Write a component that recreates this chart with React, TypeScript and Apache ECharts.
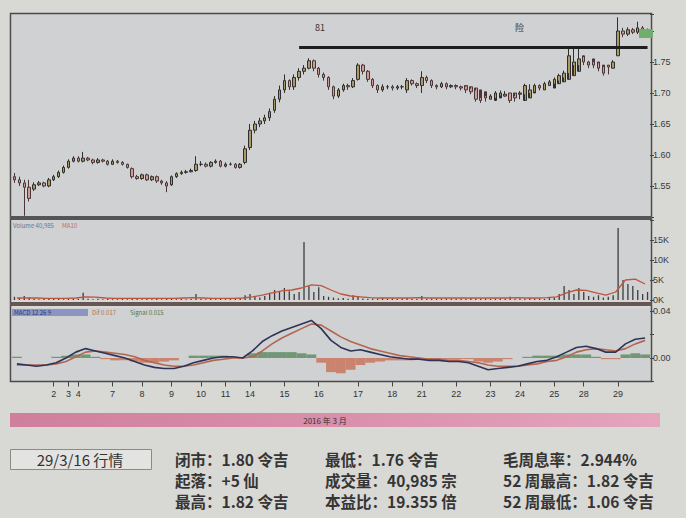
import React, { useEffect, useRef } from "react";
import * as echarts from "echarts";

// ---- categories / ticks ----
const tradingDays = [1, 2, 3, 4, 7, 8, 9, 10, 11, 14, 15, 16, 17, 18, 21, 22, 23, 24, 25, 28, 29];
const barsPerDay = [8, 3, 2, 7, 6, 6, 6, 5, 5, 7, 7, 8, 7, 6, 7, 7, 6, 7, 6, 7, 7];
const priceTicks = ["1.55", "1.60", "1.65", "1.70", "1.75"];
const volumeTicks = ["0K", "5K", "10K", "15K"];
const macdTicks = ["0.00", "0.04"];
const resistanceLevel = 1.774;

// ---- intraday price bars (RM) ----
const opens = [
  1.565, 1.56, 1.555, 1.548, 1.545, 1.552, 1.555, 1.55,
  1.56, 1.565, 1.572,
  1.58, 1.59,
  1.595, 1.59, 1.595, 1.592, 1.588, 1.592, 1.59,
  1.585, 1.59, 1.588, 1.585, 1.578, 1.565,
  1.562, 1.568, 1.56, 1.565, 1.558, 1.555,
  1.552, 1.565, 1.57, 1.572, 1.573, 1.575,
  1.585, 1.585, 1.582, 1.588, 1.59,
  1.582, 1.585, 1.585, 1.58, 1.588,
  1.612, 1.64, 1.65, 1.655, 1.66, 1.672, 1.69,
  1.705, 1.72, 1.71, 1.725, 1.735, 1.74, 1.752,
  1.74, 1.73, 1.725, 1.71, 1.695, 1.705, 1.712, 1.71,
  1.722, 1.745, 1.735, 1.722, 1.712, 1.705, 1.71,
  1.71, 1.708, 1.71, 1.705, 1.72, 1.715,
  1.712, 1.725, 1.72, 1.712, 1.71, 1.715, 1.71,
  1.712, 1.71, 1.712, 1.71, 1.708, 1.705, 1.702,
  1.69, 1.688, 1.692, 1.695, 1.7, 1.7,
  1.698, 1.688, 1.692, 1.7, 1.712, 1.705, 1.712,
  1.708, 1.715, 1.718, 1.722, 1.728, 1.735,
  1.76, 1.75, 1.755, 1.75, 1.745, 1.745, 1.74,
  1.76, 1.8, 1.795, 1.802, 1.798, 1.805, 1.8,
];
const closes = [
  1.56, 1.555, 1.548, 1.53, 1.552, 1.555, 1.55, 1.56,
  1.565, 1.572, 1.58,
  1.59, 1.595,
  1.59, 1.595, 1.592, 1.588, 1.592, 1.59, 1.585,
  1.59, 1.588, 1.585, 1.58, 1.565, 1.562,
  1.568, 1.56, 1.565, 1.558, 1.555, 1.55,
  1.565, 1.57, 1.572, 1.573, 1.575, 1.585,
  1.585, 1.582, 1.588, 1.59, 1.582,
  1.585, 1.585, 1.58, 1.585, 1.61,
  1.64, 1.65, 1.655, 1.66, 1.67, 1.69, 1.705,
  1.72, 1.71, 1.725, 1.735, 1.74, 1.752, 1.74,
  1.73, 1.725, 1.71, 1.695, 1.705, 1.712, 1.71, 1.72,
  1.745, 1.735, 1.722, 1.712, 1.705, 1.71, 1.71,
  1.708, 1.71, 1.71, 1.72, 1.715, 1.712,
  1.725, 1.72, 1.712, 1.71, 1.715, 1.71, 1.712,
  1.71, 1.708, 1.705, 1.702, 1.69, 1.688, 1.692,
  1.695, 1.7, 1.7, 1.698, 1.688, 1.692,
  1.7, 1.712, 1.705, 1.712, 1.708, 1.715, 1.718,
  1.722, 1.728, 1.732, 1.76, 1.75, 1.755,
  1.75, 1.745, 1.745, 1.74, 1.732, 1.742, 1.75,
  1.8, 1.795, 1.802, 1.798, 1.805, 1.8, 1.8,
];
const lows = [
  1.555, 1.55, 1.502, 1.525, 1.542, 1.55, 1.548, 1.548,
  1.558, 1.563, 1.57,
  1.578, 1.588,
  1.588, 1.588, 1.59, 1.585, 1.586, 1.588, 1.583,
  1.584, 1.586, 1.583, 1.578, 1.562, 1.56,
  1.56, 1.558, 1.558, 1.555, 1.552, 1.54,
  1.55, 1.563, 1.568, 1.57, 1.572, 1.573,
  1.582, 1.58, 1.58, 1.586, 1.58,
  1.58, 1.583, 1.578, 1.578, 1.585,
  1.608, 1.635, 1.645, 1.65, 1.655, 1.668, 1.685,
  1.7, 1.705, 1.705, 1.72, 1.73, 1.738, 1.735,
  1.725, 1.72, 1.705, 1.69, 1.692, 1.702, 1.705, 1.708,
  1.72, 1.73, 1.718, 1.708, 1.7, 1.702, 1.706,
  1.704, 1.705, 1.706, 1.7, 1.712, 1.708,
  1.7, 1.716, 1.708, 1.706, 1.708, 1.706, 1.708,
  1.706, 1.704, 1.7, 1.698, 1.686, 1.684, 1.686,
  1.69, 1.692, 1.696, 1.694, 1.684, 1.686,
  1.69, 1.698, 1.7, 1.702, 1.704, 1.705, 1.712,
  1.715, 1.72, 1.725, 1.732, 1.745, 1.745,
  1.745, 1.74, 1.74, 1.735, 1.728, 1.73, 1.74,
  1.76, 1.79, 1.792, 1.795, 1.795, 1.796, 1.796,
];
const highs = [
  1.571, 1.565, 1.56, 1.56, 1.556, 1.558, 1.557, 1.563,
  1.568, 1.575, 1.583,
  1.593, 1.598,
  1.598, 1.605, 1.597, 1.594, 1.595, 1.594, 1.592,
  1.593, 1.592, 1.59, 1.586, 1.58, 1.568,
  1.57, 1.57, 1.567, 1.567, 1.56, 1.558,
  1.567, 1.572, 1.575, 1.576, 1.578, 1.598,
  1.59, 1.588, 1.59, 1.593, 1.592,
  1.588, 1.588, 1.587, 1.587, 1.615,
  1.65, 1.655, 1.66, 1.665, 1.675, 1.695, 1.712,
  1.73, 1.722, 1.73, 1.74, 1.745, 1.756, 1.754,
  1.742, 1.733, 1.727, 1.712, 1.708, 1.715, 1.715, 1.724,
  1.748, 1.747, 1.737, 1.724, 1.714, 1.714, 1.713,
  1.713, 1.713, 1.713, 1.724, 1.722, 1.717,
  1.735, 1.728, 1.722, 1.714, 1.718, 1.717, 1.714,
  1.714, 1.712, 1.71, 1.707, 1.704, 1.692, 1.695,
  1.698, 1.703, 1.704, 1.703, 1.7, 1.695,
  1.703, 1.715, 1.714, 1.715, 1.714, 1.718, 1.721,
  1.725, 1.731, 1.736, 1.775, 1.772, 1.775,
  1.758, 1.752, 1.75, 1.748, 1.742, 1.745, 1.753,
  1.822, 1.805, 1.806, 1.805, 1.815, 1.808, 1.804,
];

// ---- volume (thousand shares) ----
const volume = [
  0.8, 0.5, 1.0, 0.6, 0.3, 0.2, 0.3, 0.4,
  0.3, 0.3, 0.2,
  0.3, 0.4,
  0.3, 1.8, 0.3, 0.2, 0.3, 0.2, 0.3,
  0.2, 0.2, 0.3, 0.2, 0.4, 0.3,
  0.2, 0.3, 0.2, 0.3, 0.2, 0.4,
  0.3, 0.2, 0.3, 0.2, 0.3, 1.5,
  0.3, 0.2, 0.3, 0.2, 0.3,
  0.2, 0.3, 0.4, 0.5, 1.2,
  1.5, 0.8, 0.6, 1.0, 1.8, 2.5, 2.0,
  3.0, 2.2, 1.5, 2.0, 14.5, 3.5, 2.0,
  3.2, 1.0, 0.8, 0.6, 0.4, 0.5, 0.3, 1.2,
  0.8, 0.4, 0.3, 0.4, 0.3, 0.5, 0.3,
  0.4, 0.3, 0.3, 0.5, 0.3, 0.3,
  1.0, 0.3, 0.4, 0.3, 0.3, 0.4, 0.3,
  0.3, 0.4, 0.3, 0.5, 0.4, 0.3, 0.4,
  0.3, 0.3, 0.4, 0.3, 0.8, 0.3,
  0.4, 0.3, 0.5, 0.3, 0.4, 0.3, 0.5,
  0.6, 1.5, 3.5, 2.5, 1.5, 3.0,
  2.0, 1.0, 0.8, 1.2, 0.6, 0.8, 1.2,
  18.0, 5.0, 4.0, 3.5, 2.5, 1.5, 2.0,
];
// volume average line (half resolution)
const volumeAvg = [
  0.5, 0.5, 0.5, 0.4, 0.4, 0.4, 0.5, 0.8, 0.7, 0.5,
  0.4, 0.4, 0.4, 0.4, 0.4, 0.4, 0.4, 0.5, 0.6, 0.5,
  0.4, 0.4, 0.4, 0.5, 0.8, 1.2, 1.8, 2.3, 2.5, 3.0,
  3.8, 3.6, 2.5, 1.5, 1.0, 0.8, 0.6, 0.5, 0.5, 0.5,
  0.5, 0.6, 0.5, 0.5, 0.5, 0.5, 0.5, 0.5, 0.5, 0.5,
  0.5, 0.6, 0.5, 0.5, 0.6, 0.8, 1.8, 2.5, 2.4, 1.8,
  1.2, 2.0, 5.0, 5.2, 4.0,
];

// ---- MACD (half resolution) ----
const macdDif = [
  -0.005, -0.006, -0.007, -0.006, -0.004, 0.0, 0.005, 0.008, 0.006, 0.004,
  0.002, 0.0, -0.003, -0.006, -0.008, -0.009, -0.009, -0.007, -0.004, -0.002,
  0.0, 0.001, 0.001, 0.0, 0.006, 0.014, 0.019, 0.023, 0.026, 0.029,
  0.032, 0.025, 0.015, 0.009, 0.006, 0.007, 0.005, 0.003, 0.001, 0.0,
  -0.001, -0.001, -0.002, -0.002, -0.003, -0.003, -0.004, -0.007, -0.01, -0.009,
  -0.008, -0.007, -0.005, -0.003, -0.002, 0.001, 0.005, 0.009, 0.01, 0.008,
  0.005, 0.005, 0.012, 0.016, 0.017,
];
const macdDea = [
  -0.006, -0.006, -0.006, -0.006, -0.005, -0.003, 0.001, 0.005, 0.006, 0.005,
  0.004, 0.003, 0.001, -0.002, -0.004, -0.006, -0.007, -0.007, -0.006, -0.004,
  -0.002, -0.001, 0.0, 0.0, 0.001, 0.006, 0.012, 0.017, 0.021, 0.025,
  0.029, 0.028, 0.023, 0.018, 0.014, 0.011, 0.008, 0.006, 0.004, 0.002,
  0.001, 0.0, -0.001, -0.001, -0.002, -0.002, -0.003, -0.004, -0.006, -0.007,
  -0.007, -0.007, -0.006, -0.005, -0.003, -0.002, 0.001, 0.005, 0.007, 0.008,
  0.007, 0.006, 0.008, 0.012, 0.015,
];
const macdHist = [
  0.001, 0.0, 0.0, 0.0, 0.001, 0.002, 0.003, 0.003, 0.001, -0.001,
  -0.002, -0.002, -0.003, -0.004, -0.004, -0.003, -0.002, 0.0, 0.002, 0.002,
  0.002, 0.002, 0.001, 0.0, 0.004, 0.005, 0.005, 0.005, 0.005, 0.004,
  0.003, -0.004, -0.012, -0.013, -0.01, -0.006, -0.004, -0.003, -0.002, -0.002,
  -0.002, -0.001, -0.001, -0.001, -0.001, -0.001, -0.001, -0.003, -0.004, -0.003,
  -0.001, 0.0, 0.001, 0.002, 0.002, 0.002, 0.003, 0.003, 0.003, 0.001,
  -0.001, -0.001, 0.003, 0.004, 0.003,
];

// ---- info table ----
const infoTitle = "29/3/16 行情";
const infoCol1 = ["闭市：1.80 令吉", "起落：+5 仙", "最高：1.82 令吉"];
const infoCol2 = ["最低：1.76 令吉", "成交量：40,985 宗", "本益比：19.355 倍"];
const infoCol3 = ["毛周息率：2.944%", "52 周最高：1.82 令吉", "52 周最低：1.06 令吉"];
const monthLabel = "2016 年 3 月";

const PAGE_BG = "#d8d8d5";
const PLOT_BG = "#cfd1d3";
const CJK = "'Noto Sans CJK SC', 'Noto Sans', sans-serif";

export default function App() {
  const ref = useRef<HTMLDivElement>(null);

  useEffect(() => {
    if (!ref.current) return;
    const chart = echarts.init(ref.current, undefined, { renderer: "svg" });

    const barCats: string[] = [];
    const dayStart = new Set<number>();
    tradingDays.forEach((d, k) => {
      for (let b = 0; b < barsPerDay[k]; b++) {
        if (b === 0 && d !== 1) dayStart.add(barCats.length);
        barCats.push(`${d}-${b}`);
      }
    });
    const halfCats = macdDif.map((_, j) => `h${j}`);
    const candles = opens.map((o, i) => [o, closes[i], lows[i], highs[i]]);
    const lastIdx = candles.length - 1;

    const yLabel = (list: string[], fmt: (v: number) => string) => ({
      fontSize: 9,
      color: "#3a3a3a",
      margin: 3,
      fontFamily: "Liberation Sans, Arial, sans-serif",
      formatter: (v: number) => {
        const s = fmt(v);
        return list.includes(s) ? s : "";
      },
    });
    const yTick = { show: true, length: 4, lineStyle: { color: "#444" } };

    const texts: any[] = [];
    const addText = (t: string, x: number, y: number, size: number, opts: any = {}) =>
      texts.push({
        type: "text",
        x,
        y,
        z: 120,
        style: {
          text: t,
          fontSize: size,
          lineHeight: 17,
          fontFamily: CJK,
          fill: "#353535",
          textVerticalAlign: "middle",
          ...opts,
        },
      });

    infoCol1.forEach((t, r) => addText(t, 175, 459 + r * 21, 15.5, { fontWeight: "bold" }));
    infoCol2.forEach((t, r) => addText(t, 325, 459 + r * 21, 15.5, { fontWeight: "bold" }));
    infoCol3.forEach((t, r) => addText(t, 503, 459 + r * 21, 15.5, { fontWeight: "bold" }));

    const option: any = {
      animation: false,
      backgroundColor: PAGE_BG,
      grid: [
        { left: 12, top: 14, width: 638, height: 203, show: true, backgroundColor: PLOT_BG, borderWidth: 0 },
        { left: 12, top: 220, width: 638, height: 80, show: true, backgroundColor: PLOT_BG, borderWidth: 0 },
        { left: 12, top: 308, width: 638, height: 73.5, show: true, backgroundColor: PLOT_BG, borderWidth: 0 },
      ],
      xAxis: [
        { gridIndex: 0, type: "category", data: barCats, show: false },
        { gridIndex: 1, type: "category", data: barCats, show: false, position: "bottom" },
        { gridIndex: 1, type: "category", data: halfCats, show: false, position: "top" },
        { gridIndex: 2, type: "category", data: halfCats, show: false, position: "top" },
        {
          gridIndex: 2,
          type: "category",
          data: barCats,
          position: "bottom",
          axisLine: { show: false },
          axisTick: {
            show: true,
            alignWithLabel: true,
            length: 5,
            interval: (i: number) => dayStart.has(i),
            lineStyle: { color: "#444" },
          },
          axisLabel: {
            interval: (i: number) => dayStart.has(i),
            formatter: (v: string) => v.split("-")[0],
            fontSize: 9,
            color: "#333",
            margin: 8,
            fontFamily: "Liberation Sans, Arial, sans-serif",
          },
        },
      ],
      yAxis: [
        {
          gridIndex: 0,
          type: "value",
          position: "right",
          min: 1.5,
          max: 1.8274,
          interval: 0.05,
          splitLine: { show: false },
          axisLine: { show: false },
          axisTick: yTick,
          axisLabel: yLabel(priceTicks, (v) => v.toFixed(2)),
        },
        {
          gridIndex: 1,
          type: "value",
          position: "right",
          min: 0,
          max: 20,
          interval: 5,
          splitLine: { show: false },
          axisLine: { show: false },
          axisTick: yTick,
          axisLabel: yLabel(volumeTicks, (v) => `${Math.round(v)}K`),
        },
        {
          gridIndex: 2,
          type: "value",
          position: "right",
          min: -0.02,
          max: 0.04255,
          interval: 0.02,
          splitLine: { show: false },
          axisLine: { show: false },
          axisTick: yTick,
          axisLabel: yLabel(macdTicks, (v) => v.toFixed(2)),
        },
      ],
      series: [
        {
          type: "candlestick",
          xAxisIndex: 0,
          yAxisIndex: 0,
          data: candles,
          barWidth: 3,
          itemStyle: {
            color: "#a99b62",
            color0: "#d29a98",
            borderColor: "#2f2f2f",
            borderColor0: "#4a3838",
            borderWidth: 1,
          },
          markLine: {
            silent: true,
            symbol: "none",
            label: { show: false },
            lineStyle: { color: "#1e1e1e", width: 3, type: "solid" },
            data: [[{ coord: [58, resistanceLevel] }, { coord: [lastIdx, resistanceLevel] }]],
          },
        },
        {
          type: "bar",
          xAxisIndex: 1,
          yAxisIndex: 1,
          data: volume,
          barWidth: 1.3,
          itemStyle: { color: "#3c3c3c" },
        },
        {
          type: "line",
          xAxisIndex: 2,
          yAxisIndex: 1,
          data: volumeAvg,
          symbol: "none",
          lineStyle: { color: "#c0553e", width: 1.3 },
        },
        {
          type: "bar",
          xAxisIndex: 3,
          yAxisIndex: 2,
          data: macdHist,
          barCategoryGap: "0%",
          itemStyle: {
            color: (p: any) => (p.value >= 0 ? "#66906a" : "#c97a64"),
            opacity: 0.9,
          },
        },
        {
          type: "line",
          xAxisIndex: 3,
          yAxisIndex: 2,
          data: macdDea,
          symbol: "none",
          lineStyle: { color: "#b4654f", width: 1.6 },
        },
        {
          type: "line",
          xAxisIndex: 3,
          yAxisIndex: 2,
          data: macdDif,
          symbol: "none",
          lineStyle: { color: "#2d3458", width: 1.6 },
        },
      ],
      graphic: [
        // frame & separators
        { type: "rect", z: 110, shape: { x: 10.5, y: 13.5, width: 641, height: 368 }, style: { fill: "none", stroke: "#4a4a4a", lineWidth: 1.5 } },
        { type: "rect", z: 110, shape: { x: 10, y: 216, width: 642, height: 4 }, style: { fill: "#555555" } },
        { type: "rect", z: 110, shape: { x: 10, y: 302, width: 642, height: 4 }, style: { fill: "#665656" } },
        // current price tag
        { type: "rect", z: 110, shape: { x: 639, y: 29, width: 14, height: 9 }, style: { fill: "#6fae6c" } },
        // annotations inside the price panel
        { type: "text", z: 110, x: 315, y: 27, style: { text: "81", fontSize: 9, fill: "#333", fontFamily: CJK, textVerticalAlign: "middle" } },
        { type: "text", z: 110, x: 515, y: 27, style: { text: "险", fontSize: 9, fill: "#333", fontFamily: CJK, textVerticalAlign: "middle" } },
        // panel legends
        { type: "text", z: 110, x: 13, y: 225, style: { text: "Volume 40,985", fontSize: 6, fill: "#6a7394", fontFamily: CJK, textVerticalAlign: "middle" } },
        { type: "text", z: 110, x: 62, y: 225, style: { text: "MA10", fontSize: 6, fill: "#c0704e", fontFamily: CJK, textVerticalAlign: "middle" } },
        { type: "rect", z: 109, shape: { x: 12, y: 309, width: 76, height: 7 }, style: { fill: "#8c95c2" } },
        { type: "text", z: 110, x: 14, y: 312.5, style: { text: "MACD 12 26 9", fontSize: 6, fill: "#2e3a7a", fontFamily: CJK, textVerticalAlign: "middle" } },
        { type: "text", z: 110, x: 92, y: 312.5, style: { text: "Dif 0.017", fontSize: 6, fill: "#b87050", fontFamily: CJK, textVerticalAlign: "middle" } },
        { type: "text", z: 110, x: 130, y: 312.5, style: { text: "Signal 0.015", fontSize: 6, fill: "#4f7a4c", fontFamily: CJK, textVerticalAlign: "middle" } },
        // month band
        {
          type: "rect",
          z: 100,
          shape: { x: 10, y: 413, width: 650, height: 14 },
          style: {
            fill: new echarts.graphic.LinearGradient(0, 0, 1, 0, [
              { offset: 0, color: "#cf7f9c" },
              { offset: 0.5, color: "#d98fab" },
              { offset: 1, color: "#e4a5bd" },
            ]),
          },
        },
        { type: "text", z: 110, x: 325, y: 420, style: { text: monthLabel, fontSize: 8, fill: "#333", fontFamily: CJK, textAlign: "center", textVerticalAlign: "middle" } },
        // info box
        { type: "rect", z: 100, shape: { x: 10.5, y: 449.5, width: 141, height: 20 }, style: { fill: "#e3e3e1", stroke: "#8a8a8a", lineWidth: 1 } },
        { type: "text", z: 110, x: 80, y: 459.5, style: { text: infoTitle, fontSize: 15, fill: "#333", fontFamily: CJK, textAlign: "center", textVerticalAlign: "middle" } },
        ...texts,
      ],
    };

    chart.setOption(option);
    return () => chart.dispose();
  }, []);

  return (
    <div
      ref={ref}
      style={{ position: "fixed", left: 0, top: 0, width: 686, height: 518, background: PAGE_BG }}
    />
  );
}
